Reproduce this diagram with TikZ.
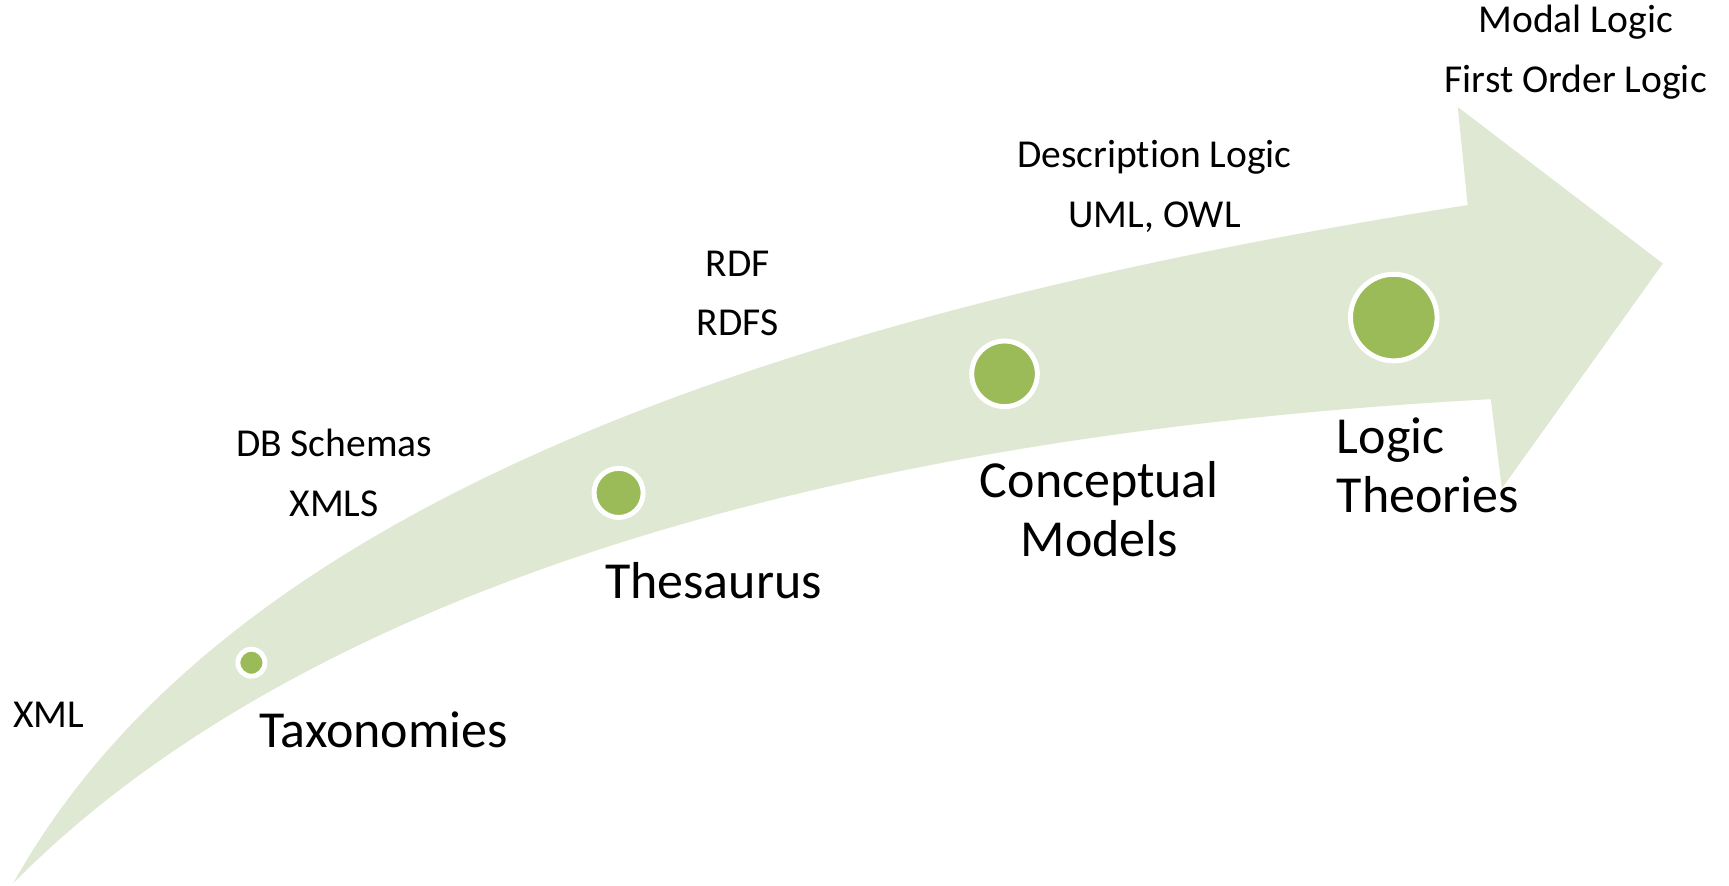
\documentclass[tikz,border=0pt]{standalone}
\usepackage{fontspec}
\setmainfont{Carlito}[Ligatures=NoCommon]
\usepackage{tikz}
\definecolor{bandgreen}{HTML}{DFE8D2}
\definecolor{dotgreen}{HTML}{9BBB59}

\begin{document}
\begin{tikzpicture}[x=0.01cm,y=-0.01cm,
  dot/.style={circle,fill=dotgreen,draw=white,line width=0.045cm,inner sep=0pt},
  small/.style={align=center,inner sep=0pt,font=\fontsize{10.2}{15.4}\selectfont},
  big/.style={inner sep=0pt,font=\fontsize{13.4}{15.2}\selectfont}]

  \useasboundingbox (0,0) rectangle (1568,803);

  % curved arrow
  \fill[bandgreen] (12,801) .. controls (180,500) and (600,300) .. (1331,186)
    -- (1322,97) -- (1508,239) -- (1362,443) -- (1352,362)
    .. controls (650,400) and (230,580) .. (12,801) -- cycle;

  % stages
  \node[dot,minimum size=0.245cm] (dotTax) at (228,601) {};
  \node[dot,minimum size=0.445cm] (dotThes) at (561,447) {};
  \node[dot,minimum size=0.595cm] (dotConc) at (911,339) {};
  \node[dot,minimum size=0.785cm] (dotLogic) at (1264,288) {};

  % stage names
  \node[big] (taxonomies) at (348,662) {Taxonomies};
  \node[big] (thesaurus) at (647,527) {Thesaurus};
  \node[big,align=center] (conceptual) at (997,462) {Conceptual\\Models};
  \node[big,align=left] (logic) at (1295,422) {Logic\\Theories};

  % languages
  \node[small] (xml) at (44,648) {XML};
  \node[small] (dbschemas) at (303,429) {DB Schemas\\XMLS};
  \node[small] (rdf) at (669,266) {RDF\\RDFS};
  \node[small] (desclogic) at (1047,169) {Description Logic\\UML, OWL};
  \node[small] (modallogic) at (1429,47) {Modal Logic\\First Order Logic};

\end{tikzpicture}
\end{document}
